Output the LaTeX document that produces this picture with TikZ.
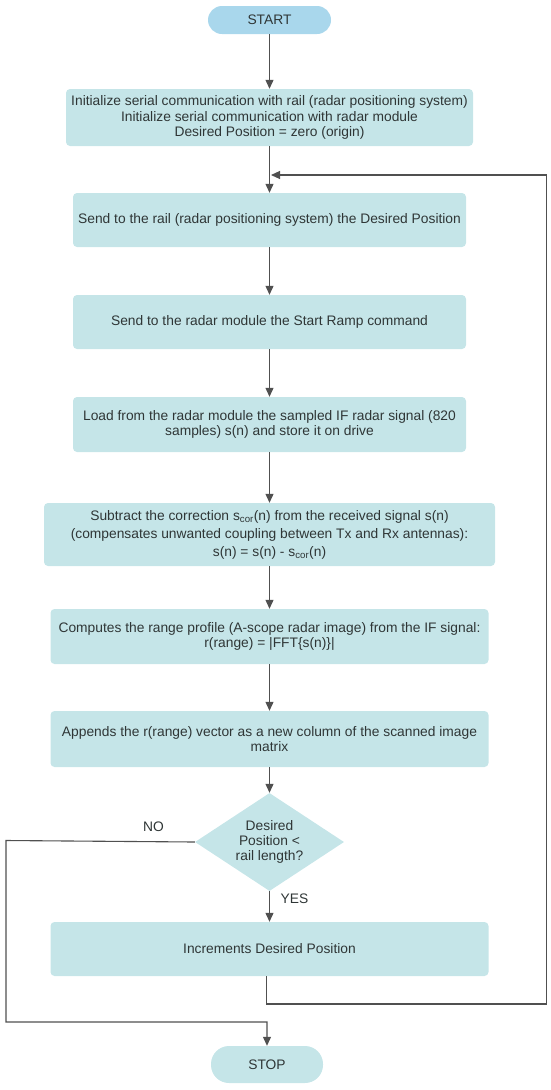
\documentclass[tikz,border=0pt]{standalone}
\usepackage{fontspec}
\setmainfont{Liberation Sans}
\usetikzlibrary{arrows.meta,shapes.geometric}
\definecolor{boxfill}{HTML}{C5E5E8}
\definecolor{startfill}{HTML}{A9D7EC}
\definecolor{txt}{HTML}{2F3636}
\definecolor{linec}{HTML}{505050}
\tikzset{
  procbox/.style={rectangle, rounded corners=4pt, fill=boxfill, draw=none, text=txt,
    align=center, inner sep=0pt, font=\fontsize{13.8}{15.2}\selectfont},
  termbox/.style={rectangle, rounded corners=14pt, draw=none, text=txt,
    align=center, inner sep=0pt, font=\fontsize{13.8}{15.2}\selectfont},
  decbox/.style={diamond, fill=boxfill, draw=none, inner sep=0pt},
  lbl/.style={text=txt, inner sep=0pt, font=\fontsize{13.8}{15.2}\selectfont},
  conn/.style={draw=linec, line width=1.1pt, -{Triangle[length=9pt,width=8pt]}},
  plain/.style={draw=linec, line width=1.1pt}
}
\begin{document}
\begin{tikzpicture}[x=1pt,y=-1pt]
\useasboundingbox (0,0) rectangle (550,1090);
\node[termbox, fill=startfill, minimum width=123pt, minimum height=28pt] (start) at (269.5,20) {START};
\node[procbox, minimum width=407pt, minimum height=57pt] (init) at (269.5,117.5)
  {Initialize serial communication with rail (radar positioning system)\\Initialize serial communication with radar module\\Desired Position = zero (origin)};
\node[procbox, minimum width=393pt, minimum height=54pt] (rail) at (269.5,220)
  {Send to the rail (radar positioning system) the Desired Position};
\node[procbox, minimum width=393pt, minimum height=54pt] (radar) at (269.5,322)
  {Send to the radar module the Start Ramp command};
\node[procbox, minimum width=393pt, minimum height=55pt] (load) at (269.5,424.5)
  {Load from the radar module the sampled IF radar signal (820\\samples) s(n) and store it on drive};
\node[procbox, minimum width=451pt, minimum height=63pt, font=\fontsize{13.8}{18}\selectfont] (sub) at (269.5,534.5)
  {Subtract the correction s\textsubscript{cor}(n) from the received signal s(n)\\(compensates unwanted coupling between Tx and Rx antennas):\\s(n) = s(n) - s\textsubscript{cor}(n)};
\node[procbox, minimum width=438pt, minimum height=55pt, font=\fontsize{13.8}{15.8}\selectfont] (comp) at (269.5,636.5)
  {Computes the range profile (A-scope radar image) from the IF signal:\\r(range) = |FFT\{s(n)\}|};
\node[procbox, minimum width=438pt, minimum height=56pt, font=\fontsize{13.8}{15.8}\selectfont] (app) at (269.5,739)
  {Appends the r(range) vector as a new column of the scanned image\\matrix};
\node[decbox, minimum width=149pt, minimum height=98pt] (dia) at (269.5,842) {};
\node[lbl, align=center] (diatext) at (269.5,842) {Desired\\Position <\\rail length?};
\node[procbox, minimum width=438pt, minimum height=54pt] (inc) at (269.5,949)
  {Increments Desired Position};
\node[termbox, fill=boxfill, rounded corners=18pt, minimum width=112pt, minimum height=37pt] (stop) at (267,1064.5) {STOP};

\coordinate (loopA) at (266.5,1004);
\coordinate (loopB) at (546.5,1004);
\coordinate (loopC) at (546.5,175);
\coordinate (loopD) at (271,175);
\coordinate (noA) at (6,840.5);
\coordinate (noB) at (6,1022);
\coordinate (noC) at (267,1022);

\draw[conn] (start.south) -- (init.north);
\draw[conn] (init.south) -- (rail.north);
\draw[conn] (rail.south) -- (radar.north);
\draw[conn] (radar.south) -- (load.north);
\draw[conn] (load.south) -- (sub.north);
\draw[conn] (sub.south) -- (comp.north);
\draw[conn] (comp.south) -- (app.north);
\draw[conn] (app.south) -- (dia.north);
\draw[conn] (dia.south) -- (inc.north);
\draw[conn] ([xshift=-3pt]inc.south) -- (loopA) -- (loopB) -- (loopC) -- (loopD);
\draw[conn] (dia.west) -- (noA) -- (noB) -- (noC) -- (stop.north);
\node[lbl] (yes) at (294.5,899) {YES};
\node[lbl] (no) at (153.5,827) {NO};
\end{tikzpicture}
\end{document}
